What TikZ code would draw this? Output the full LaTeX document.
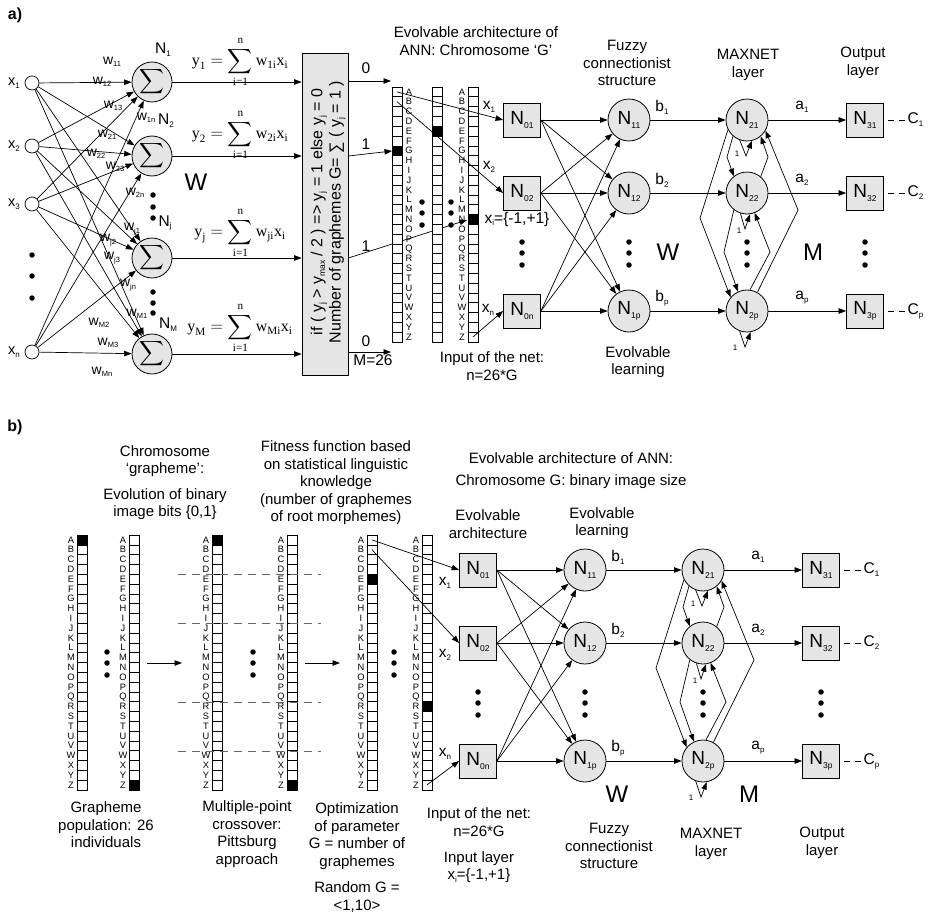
\documentclass[tikz,border=0pt]{standalone}
\usepackage{amsmath}
\usepackage{fontspec}
\setmainfont{Liberation Sans}
\newfontfamily\tms{Liberation Serif}
\usetikzlibrary{arrows.meta}

% small lowered index in text labels
\def\sbsize{8}
\newcommand\sbx[1]{\raisebox{-0.35ex}{\fontsize{\sbsize}{\sbsize}\selectfont #1}}
\newcommand\tx[1]{\text{\tms #1}}
\newcommand\fsz[2]{\fontsize{#1}{#2}\selectfont}
% weighted sum y_k = sum_{i=1}^{n} w_{ki} x_i
\newcommand\wsum[2]{$\tx{y}_{\tx{#1}} = \displaystyle\sum_{\tx{i=1}}^{\tx{n}} \tx{w}_{\tx{#2}}\tx{x}_{\tx{i}}$}

% a column of 26 grapheme cells: name, left x, top y, filled row
\newcommand\gcol[4]{%
  \foreach \kk in {0,...,25} {\draw[cell] (#2,#3+\kk*9.8) rectangle ++(10,9.8);}
  \fill (#2,#3+#4*9.8) rectangle ++(10,9.8);
  \foreach \lt [count=\kk from 0] in {A,...,Z} {\coordinate (#1\lt) at (#2+5,#3+\kk*9.8+4.9);}
}
% the letters A..Z beside a column: name, centre x, top y
\newcommand\glet[3]{%
  \foreach \lt [count=\kk from 0] in {A,...,Z} {\node[lett] (#1\lt) at (#2,#3+\kk*9.8+4.9) {\lt};}
}

% input layer, fuzzy layer, MAXNET and output layer
\newcommand\annet[1]{%
  \node[boxn] (#1n01) at (522,120) {N\sbx{01}};
  \node[boxn] (#1n02) at (522,193) {N\sbx{02}};
  \node[boxn] (#1n0n) at (522,311) {N\sbx{0n}};
  \node[circn] (#1n11) at (629,120) {N\sbx{11}};
  \node[circn] (#1n12) at (629,193) {N\sbx{12}};
  \node[circn] (#1n1p) at (629,311) {N\sbx{1p}};
  \node[circn] (#1n21) at (747,120) {N\sbx{21}};
  \node[circn] (#1n22) at (747,193) {N\sbx{22}};
  \node[circn] (#1n2p) at (747,311) {N\sbx{2p}};
  \node[boxn] (#1n31) at (865,120) {N\sbx{31}};
  \node[boxn] (#1n32) at (865,193) {N\sbx{32}};
  \node[boxn] (#1n3p) at (865,311) {N\sbx{3p}};
  \foreach \s in {01,02,0n} \foreach \t in {11,12,1p} \draw[arr] (#1n\s.east) -- (#1n\t);
  \foreach \r/\y in {1/120,2/193,p/311} {
    \draw[arr] (#1n1\r) -- (#1n2\r);
    \draw[arr] (#1n2\r) -- (#1n3\r);
    \node[lbl] (#1b\r) at (662,\y-13) {b\sbx{\r}};
    \node[lbl] (#1a\r) at (802,\y-13) {a\sbx{\r}};
    \node[lbl,anchor=west] (#1c\r) at (906,\y) {C\sbx{\r}};
    \draw[cdash] ([xshift=4pt]#1n3\r.east) -- (#1c\r.west);
  }
  \foreach \xx in {522,629,747,865} \foreach \yy in {242,253,265}
    \node[dotn] (#1d\xx-\yy) at (\xx,\yy) {};
  % lateral MAXNET links
  \draw[arr] (#1n21.229) -- (727,157) -- (#1n22.128);
  \draw[arr] (#1n22.50) -- (768,157) -- (#1n21.310);
  \draw[arr] (#1n21.207) -- (700,218) -- (#1n2p.140);
  \draw[arr] (#1n2p.61) -- (798,210) -- (#1n21.330);
  \draw[arr] (#1n22.232) -- (724,252) -- (#1n2p.115);
  \draw[arr] (#1n2p.82) -- (770,252) -- (#1n22.291);
  % self loops with weight 1
  \draw[arr] (#1n21.250) -- (746,156) -- (#1n21.283);
  \draw[arr] (#1n22.252) -- (745,229) -- (#1n22.278);
  \draw[arr] (#1n2p.250) -- (745,347) -- (#1n2p.280);
  \node[one] (#1o1) at (737,154) {1};
  \node[one] (#1o2) at (739,231) {1};
  \node[one] (#1o3) at (735,348) {1};
}

\begin{document}
\begin{tikzpicture}[x=1pt,y=-1pt,
  txt/.style={font=\fsz{15}{17.5}, align=center, inner sep=0pt},
  lbl/.style={font=\fsz{15.5}{15.5}\def\sbsize{8}, inner sep=1.5pt},
  wl/.style={font=\fsz{14}{14}\def\sbsize{7.5}, inner sep=0pt},
  arr/.style={-{Triangle[length=7.5pt,width=5.5pt]}, line width=0.7pt},
  cdash/.style={line width=0.7pt, dash pattern=on 6pt off 5pt},
  gdash/.style={line width=0.8pt, dash pattern=on 8pt off 6pt, gray!80!black},
  boxn/.style={draw, fill=black!10, minimum width=37pt, minimum height=34pt,
    inner sep=0pt, line width=0.8pt, font=\fsz{19}{19}\def\sbsize{8.5}},
  circn/.style={draw, circle, fill=black!10, minimum size=42pt, inner sep=0pt,
    line width=0.8pt, font=\fsz{19}{19}\def\sbsize{8.5}},
  sumn/.style={draw, circle, fill=black!10, minimum size=40pt, inner sep=0pt, line width=0.8pt},
  inp/.style={draw, circle, minimum size=14pt, inner sep=0pt, line width=0.7pt},
  dotn/.style={circle, fill, inner sep=0pt, minimum size=5.5pt},
  lett/.style={font=\fsz{9.3}{9.3}, inner sep=0pt},
  cell/.style={draw, line width=0.6pt, fill=white},
  big/.style={font=\fsz{24}{24}, inner sep=0pt},
  one/.style={font=\fsz{8}{8}, inner sep=0pt},
  fml/.style={font=\fsz{16}{16}, inner sep=0pt}]
\useasboundingbox (0,0) rectangle (933,915);

% ================= a) =================
\node[font=\bfseries\fsz{16}{16}] (la) at (15,15) {a)};

\node[inp] (x1) at (32,83) {};
\node[inp] (x2) at (32,146) {};
\node[inp] (x3) at (32,204) {};
\node[inp] (xn) at (32,352) {};
\node[lbl,font=\fsz{14.5}{14.5}] (lx1) at (14,83) {x\sbx{1}};
\node[lbl,font=\fsz{14.5}{14.5}] (lx2) at (14,146) {x\sbx{2}};
\node[lbl,font=\fsz{14.5}{14.5}] (lx3) at (14,204) {x\sbx{3}};
\node[lbl,font=\fsz{14.5}{14.5}] (lxn) at (14,352) {x\sbx{n}};
\foreach \yy in {255,276,298} \node[dotn] (din\yy) at (32,\yy) {};

\foreach \j/\y in {1/82,2/156,3/258,4/354}
  \node[sumn] (s\j) at (152,\y) {\fsz{19}{19}$\displaystyle\sum$};
\foreach \i in {x1,x2,x3,xn} \foreach \j in {s1,s2,s3,s4} \draw[arr] (\i) -- (\j);

\node[lbl] (ln1) at (163,50) {N\sbx{1}};
\node[lbl] (ln2) at (166,121) {N\sbx{2}};
\node[lbl] (lnj) at (165,223) {N\sbx{j}};
\node[lbl] (lnm) at (168,325) {N\sbx{M}};
\foreach \yy in {195,207,218,292,303,313} \node[dotn] (dsum\yy) at (153,\yy) {};
\node[big] (wa1) at (196,182) {W};

\node[wl] (w11) at (112,62) {w\sbx{11}};
\node[wl] (w12) at (102,82) {w\sbx{12}};
\node[wl] (w13) at (113,106) {w\sbx{13}};
\node[wl] (w1n) at (146,118) {w\sbx{1n}};
\node[wl] (w21) at (107,135) {w\sbx{21}};
\node[wl] (w22) at (96,154) {w\sbx{22}};
\node[wl] (w23) at (115,167) {w\sbx{23}};
\node[wl] (w2n) at (135,193) {w\sbx{2n}};
\node[wl] (wj1) at (132,229) {w\sbx{j1}};
\node[wl] (wj2) at (108,240) {w\sbx{j2}};
\node[wl] (wj3) at (112,258) {w\sbx{j3}};
\node[wl] (wjn) at (128,285) {w\sbx{jn}};
\node[wl] (wm1) at (137,314) {w\sbx{M1}};
\node[wl] (wm2) at (99,323) {w\sbx{M2}};
\node[wl] (wm3) at (108,343) {w\sbx{M3}};
\node[wl] (wmn) at (102,372) {w\sbx{Mn}};

\node[fml] (f1) at (240,62) {\wsum{1}{1i}};
\node[fml] (f2) at (240,135) {\wsum{2}{2i}};
\node[fml] (f3) at (240,233) {\wsum{j}{ji}};
\node[fml] (f4) at (240,328) {\wsum{M}{Mi}};

% threshold block
\node[draw, fill=black!10, line width=0.8pt, minimum width=46pt, minimum height=322pt] (gate) at (325,214) {};
\node[txt, rotate=90, font=\fsz{16}{13}\def\sbsize{8.5}] (gtext) at (328,212)
  {if ( y\sbx{j} > y\sbx{max} / 2 ) => y\sbx{j} = 1 else y\sbx{j} = 0\\[1pt]Number of graphemes G= ∑ ( y\sbx{j} = 1 )};
\foreach \j in {1,2,3,4} \draw[arr] (s\j) -- (s\j -| gate.west);

\coordinate (o1) at (391,81);
\coordinate (o2) at (392,151);
\coordinate (o3) at (467,220);
\coordinate (o4) at (391,352);
\draw[arr] (gate.east |- o1) -- (o1);
\draw[arr] (gate.east |- s2) -- (o2);
\draw[arr] (gate.east |- s3) -- (o3);
\draw[arr] (gate.east |- o4) -- (o4);
\node[lbl] (l0a) at (366,68) {0};
\node[lbl] (l1a) at (366,144) {1};
\node[lbl] (l1b) at (366,246) {1};
\node[lbl] (l0b) at (366,341) {0};
\node[lbl] (m26) at (373,360) {M=26};

% grapheme columns
\gcol{ac1}{392}{87}{6}
\glet{al1}{409}{87}
\gcol{ac2}{432}{87}{4}
\gcol{ac3}{468}{87}{13}
\glet{al3}{462}{87}
\foreach \yy in {202,213,225} {\node[dotn] (dca\yy) at (422,\yy) {}; \node[dotn] (dcb\yy) at (451,\yy) {};}

\node[txt] (ta1) at (476,41) {Evolvable architecture of\\ANN: Chromosome ‘G’};
\node[txt] (ta2) at (627,63) {Fuzzy\\connectionist\\structure};
\node[txt] (ta3) at (748,65) {MAXNET\\layer};
\node[txt] (ta4) at (863,63) {Output\\layer};
\node[txt] (ta5) at (492,366) {Input of the net:\\n=26*G};
\node[txt] (ta6) at (638,362) {Evolvable\\learning};

\annet{A}
\draw[arr] (ac1A) -- (An01.west);
\draw[arr] (ac1B) -- (An02.west);
\draw[arr] (ac3Z) -- (An0n.west);
\node[lbl] (ax1) at (489,107) {x\sbx{1}};
\node[lbl] (ax2) at (489,167) {x\sbx{2}};
\node[lbl] (axn) at (488,310) {x\sbx{n}};
\node[lbl,anchor=west] (axi) at (483,219) {x\sbx{i}=\{-1,+1\}};
\node[big] (wa2) at (668,252) {W};
\node[big] (ma) at (813,252) {M};

% ================= b) =================
\node[font=\bfseries\fsz{16}{16}] (lb) at (15,427) {b)};

\gcol{bc1}{77}{535}{0}   \glet{bl1}{71}{535}
\gcol{bc2}{129}{535}{25} \glet{bl2}{123}{535}
\gcol{bc3}{212}{535}{0}  \glet{bl3}{206}{535}
\gcol{bc4}{287}{535}{25} \glet{bl4}{281}{535}
\gcol{bc5}{367}{535}{4}  \glet{bl5}{361}{535}
\gcol{bc6}{422}{535}{17} \glet{bl6}{416}{535}
\foreach \yy in {652,663,675} {
  \node[dotn] (dba\yy) at (107,\yy) {};
  \node[dotn] (dbb\yy) at (253,\yy) {};
  \node[dotn] (dbc\yy) at (394,\yy) {};
}
\coordinate (p1) at (147,663); \coordinate (p2) at (182,663);
\coordinate (p3) at (305,663); \coordinate (p4) at (340,663);
\draw[arr] (p1) -- (p2);
\draw[arr] (p3) -- (p4);
% crossover points
\foreach \yy in {574,623,702,751} {
  \coordinate (cl\yy) at (178,\yy); \coordinate (cr\yy) at (321,\yy);
  \draw[gdash] (cl\yy) -- (cr\yy);
}

\node[txt] (tb1) at (165,461) {Chromosome\\‘grapheme’:};
\node[txt] (tb2) at (165,504) {Evolution of binary\\image bits \{0,1\}};
\node[txt] (tb3) at (336,483) {Fitness function based\\on statistical linguistic\\knowledge\\(number of graphemes\\of root morphemes)};
\node[txt] (tb4) at (571,458) {Evolvable architecture of ANN:};
\node[txt] (tb5) at (571,482) {Chromosome G: binary image size};
\node[txt] (tb6) at (488,524) {Evolvable\\architecture};
\node[txt] (tb7) at (602,523) {Evolvable\\learning};
\node[txt] (tb8) at (106,825) {Grapheme\\population: 26\\individuals};
\node[txt] (tb9) at (247,834) {Multiple-point\\crossover:\\Pittsburg\\approach};
\node[txt] (tb10) at (357,836) {Optimization\\of parameter\\G = number of\\graphemes};
\node[txt] (tb11) at (357,897) {Random G =\\<1,10>};
\node[txt] (tb12) at (479,822) {Input of the net:\\n=26*G};
\node[txt,font=\fsz{15}{17.5}\def\sbsize{8}] (tb13) at (479,867) {Input layer\\x\sbx{i}=\{-1,+1\}};
\node[txt] (tb14) at (609,846) {Fuzzy\\connectionist\\structure};
\node[txt] (tb15) at (711,844) {MAXNET\\layer};
\node[txt] (tb16) at (822,843) {Output\\layer};

\begin{scope}[shift={(-44,450)}]
\annet{B}
\end{scope}
\draw[arr] (bc5A) -- (Bn01.west);
\draw[arr] (bc5B) -- (Bn02.west);
\draw[arr] (bc6Z) -- (Bn0n.west);
\node[lbl] (bx1) at (445,583) {x\sbx{1}};
\node[lbl] (bx2) at (445,655) {x\sbx{2}};
\node[lbl] (bxn) at (445,754) {x\sbx{n}};
\node[big] (wb) at (617,794) {W};
\node[big] (mb) at (749,794) {M};
\end{tikzpicture}
\end{document}
